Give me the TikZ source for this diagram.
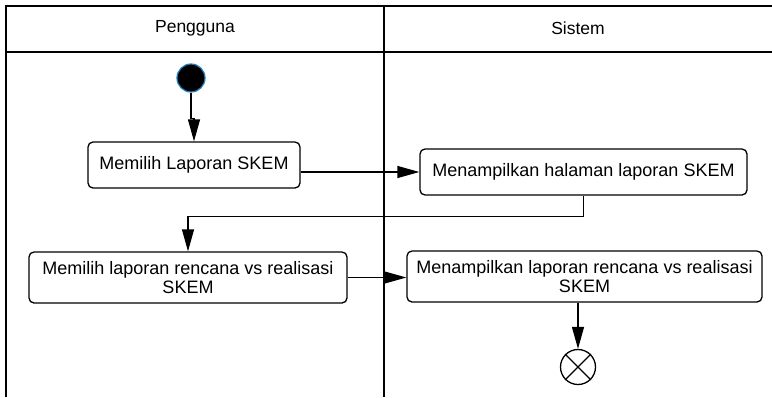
\documentclass[tikz,border=0pt]{standalone}
\usepackage{fontspec}
\setmainfont{Liberation Sans}
\usetikzlibrary{arrows.meta}
\definecolor{startrim}{HTML}{1F7FC0}
\begin{document}
\begin{tikzpicture}[x=1pt,y=-1pt,
  lane/.style={line width=1.4pt, draw=black},
  action/.style={draw, line width=1.3pt, rounded corners=5pt, align=center,
    font=\fontsize{18}{19}\selectfont, inner sep=0pt},
  flow/.style={line width=1.3pt, -{Triangle[length=22pt,width=12pt]}},
  lanetitle/.style={font=\fontsize{17.5}{19}\selectfont}]
\useasboundingbox (0,0) rectangle (772,397);
\fill[white] (0,0) rectangle (772,397);

% swimlanes
\draw[lane] (6,397) -- (6,6) -- (772,6);
\draw[lane] (6,52) -- (772,52);
\draw[lane] (384,6) -- (384,397);
\node[lanetitle] (hUser) at (195,28) {Pengguna};
\node[lanetitle] (hSys) at (578,28) {Sistem};

% initial and final nodes
\node[circle, fill=black, draw=startrim, line width=1.2pt, minimum size=28pt, inner sep=0pt] (start) at (191,78) {};
\node[circle, fill=white, draw=black, line width=1.3pt, minimum size=35pt, inner sep=0pt] (final) at (578,367) {};
\draw[line width=1.3pt] (final.north west) -- (final.south east)
                        (final.north east) -- (final.south west);

% actions
\node[action, minimum width=212pt, minimum height=46pt] (pilih) at (194,165) {Memilih Laporan SKEM};
\node[action, minimum width=327pt, minimum height=46pt] (tampil) at (583.5,172) {Menampilkan halaman laporan SKEM};
\node[action, minimum width=318pt, minimum height=51pt] (pilihRenc) at (188,277.5) {Memilih laporan rencana vs realisasi\\SKEM};
\node[action, minimum width=355pt, minimum height=51pt] (tampilRenc) at (584.5,276.5) {Menampilkan laporan rencana vs realisasi\\SKEM};

% control flow
\draw[flow] (start.south) -- ++(0,26) -| (pilih.north);
\draw[flow] (pilih.east |- tampil.west) -- (tampil.west);
\draw[flow] (tampil.south) -- ++(0,21) -| (pilihRenc.north);
\draw[flow] (pilihRenc.east) -- (pilihRenc.east -| tampilRenc.west);
\draw[flow] (tampilRenc.south -| final.north) -- (final.north);
\end{tikzpicture}
\end{document}
